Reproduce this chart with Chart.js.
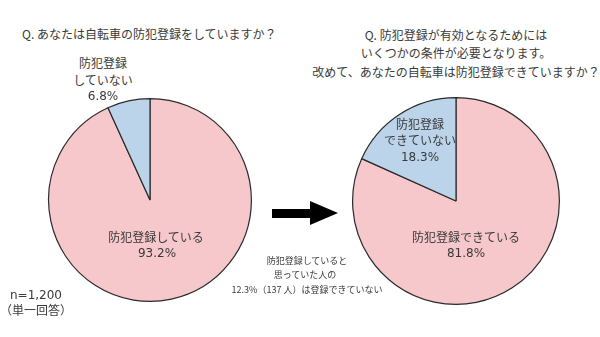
<!DOCTYPE html>
<html lang="ja">
<head>
<meta charset="utf-8">
<title>自転車の防犯登録</title>
<script src="https://cdn.jsdelivr.net/npm/chart.js@4.4.1/dist/chart.umd.min.js"></script>
<style>
  html, body { margin: 0; padding: 0; background: #fff; }
  #stage {
    position: relative;
    width: 600px;
    height: 337px;
    overflow: hidden;
    font-family: "Noto Sans CJK JP", "Noto Sans", sans-serif;
    color: #3a3a3a;
  }
  #stage canvas { position: absolute; }
  .txt {
    position: absolute;
    white-space: nowrap;
    transform: translate(-50%, -50%);
    text-align: center;
    line-height: 1;
  }
  .title { font-size: 12px; }
  .slice { font-size: 12px; }
  .num { font-family: "DejaVu Sans", sans-serif; font-size: 12px; }
  .note { font-size: 9px; }
  #arrow { position: absolute; left: 272px; top: 201px; }
</style>
</head>
<body>
<div id="stage">
  <canvas id="beforeChart" width="208" height="208" style="left:46px; top:96px;"></canvas>
  <canvas id="afterChart" width="212" height="212" style="left:350px; top:95px;"></canvas>

  <div class="txt title" style="left:22px; top:34px; transform:translate(0,-50%);">Q. あなたは自転車の防犯登録をしていますか？</div>
  <div class="txt title" style="left:456px; top:35px;">Q. 防犯登録が有効となるためには</div>
  <div class="txt title" style="left:456px; top:53px;">いくつかの条件が必要となります。</div>
  <div class="txt title" style="left:456px; top:72px;">改めて、あなたの自転車は防犯登録できていますか？</div>

  <div class="txt slice" style="left:103px; top:63px;">防犯登録</div>
  <div class="txt slice" style="left:103px; top:80px;">していない</div>
  <div class="txt num" id="beforeNoVal" style="left:103px; top:96px;"></div>

  <div class="txt slice" style="left:156px; top:237px;">防犯登録している</div>
  <div class="txt num" id="beforeYesVal" style="left:157px; top:253px;"></div>

  <div class="txt slice" style="left:420px; top:124px;">防犯登録</div>
  <div class="txt slice" style="left:420px; top:140px;">できていない</div>
  <div class="txt num" id="afterNoVal" style="left:420px; top:157px;"></div>

  <div class="txt slice" style="left:466px; top:237px;">防犯登録できている</div>
  <div class="txt num" id="afterYesVal" style="left:466px; top:253px;"></div>

  <div class="txt note" style="left:307px; top:260px;">防犯登録していると</div>
  <div class="txt note" style="left:305px; top:274px;">思っていた人の</div>
  <div class="txt note" style="left:307px; top:289px;">12.3%（137 人）は登録できていない</div>

  <div class="txt num" style="left:36px; top:295px;">n=1,200</div>
  <div class="txt slice" style="left:36px; top:310px;">（単一回答）</div>

  <svg id="arrow" width="70" height="26" viewBox="0 0 70 26">
    <polygon points="0,8 38,8 38,0 66,12 38,24 38,17 0,17" fill="#000"/>
  </svg>
</div>

<script>
// 回答データ（%）
const beforeLabels = ['防犯登録している', '防犯登録していない'];
const beforeValues = [93.2, 6.8];
const afterLabels = ['防犯登録できている', '防犯登録できていない'];
const afterValues = [81.8, 18.3];

const sliceColors = ['#f6c7cb', '#bcd4ea'];
const edgeColor = '#2b2b2b';

function pieConfig(labels, values) {
    return {
        type: 'pie',
        data: {
            labels: labels,
            datasets: [{
                data: values,
                backgroundColor: sliceColors,
                borderColor: edgeColor,
                borderWidth: 1.2
            }]
        },
        options: {
            responsive: false,
            animation: false,
            layout: { padding: 2 },
            plugins: {
                legend: { display: false },
                tooltip: { enabled: false }
            }
        }
    };
}

new Chart(document.getElementById('beforeChart'), pieConfig(beforeLabels, beforeValues));
new Chart(document.getElementById('afterChart'), pieConfig(afterLabels, afterValues));

// 割合の表示
const pct = v => v.toFixed(1) + '%';
document.getElementById('beforeYesVal').textContent = pct(beforeValues[0]);
document.getElementById('beforeNoVal').textContent = pct(beforeValues[1]);
document.getElementById('afterYesVal').textContent = pct(afterValues[0]);
document.getElementById('afterNoVal').textContent = pct(afterValues[1]);
</script>
</body>
</html>
